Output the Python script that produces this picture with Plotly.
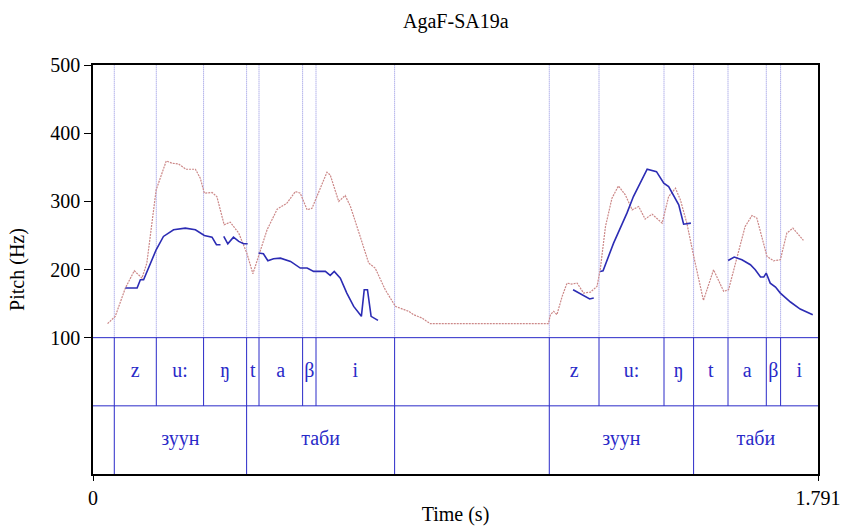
import plotly.graph_objects as go

# ---------------- data ----------------
TITLE = "AgaF-SA19a"
X_MAX = 1.791

# Red (dotted) pitch contour: time (s), pitch (Hz)
red_t = [0.036, 0.055, 0.080, 0.102, 0.121, 0.133, 0.156, 0.181, 0.195, 0.211,
         0.230, 0.253, 0.265, 0.275, 0.294, 0.306, 0.324, 0.339, 0.360, 0.380,
         0.395, 0.409, 0.430, 0.455, 0.479, 0.500, 0.512, 0.529, 0.541, 0.553,
         0.578, 0.586, 0.607, 0.623, 0.636, 0.660, 0.681, 0.697, 0.722, 0.747,
         0.763, 0.780, 0.792, 0.813, 0.833, 1.125, 1.130, 1.138, 1.146, 1.159,
         1.171, 1.183, 1.196, 1.212, 1.229, 1.245, 1.253, 1.266, 1.282, 1.298,
         1.315, 1.332, 1.348, 1.364, 1.381, 1.406, 1.422, 1.439, 1.451, 1.467,
         1.484, 1.508, 1.533, 1.558, 1.570, 1.591, 1.611, 1.628, 1.640, 1.665,
         1.681, 1.698, 1.714, 1.729, 1.743, 1.755]
red_hz = [120.5, 131.3, 172.8, 198.2, 187.4, 209.4, 316.8, 359.3, 355.9, 354.9,
          347.1, 347.1, 334.0, 312.0, 313.0, 307.0, 265.6, 269.5, 253.4, 224.0,
          193.8, 219.2, 258.2, 288.5, 297.3, 314.4, 312.0, 287.5, 289.9, 307.0,
          342.7, 338.8, 299.8, 308.6, 292.4, 248.5, 209.4, 202.1, 170.3, 145.9,
          142.0, 138.6, 133.7, 128.8, 120.5, 120.5, 133.7, 138.6, 133.7, 160.6,
          180.0, 178.6, 180.0, 165.4, 166.9, 175.2, 199.6, 263.1, 304.6, 322.6,
          309.5, 287.5, 292.4, 273.9, 281.2, 268.0, 307.0, 319.2, 302.2, 268.0,
          219.2, 154.7, 199.6, 167.9, 170.3, 219.2, 263.1, 279.2, 275.3, 219.2,
          212.8, 214.3, 253.4, 260.7, 250.9, 242.6]

# Blue (solid) pitch contour, None = unvoiced gap
blue_t = [0.080, 0.109, 0.117, 0.125, 0.156, 0.174, 0.199, 0.228, 0.253, 0.275, 0.294, 0.305, 0.315, None,
          0.323, 0.333, 0.347, 0.360, 0.372, 0.382, None,
          0.409, 0.421, 0.432, 0.446, 0.463, 0.488, 0.512, 0.529, 0.545, 0.574, 0.586, 0.596, 0.611,
          0.627, 0.644, 0.663, 0.670, 0.678, 0.687, 0.704, None,
          1.186, 1.208, 1.227, 1.237, None,
          1.253, 1.260, 1.286, 1.319, 1.335, 1.352, 1.369, 1.392, 1.410, 1.422, 1.434, 1.447, 1.459, 1.477, None,
          1.569, 1.584, 1.603, 1.624, 1.636, 1.649, 1.657, 1.663, 1.673, 1.686, 1.698, 1.723, 1.747, 1.778]
blue_hz = [172.8, 172.8, 185.0, 185.0, 228.9, 248.5, 258.2, 260.7, 258.2, 250.0, 247.5, 236.3, 236.3, None,
           248.5, 237.7, 247.5, 241.2, 237.7, 237.7, None,
           224.1, 223.1, 212.8, 215.8, 216.7, 211.8, 202.1, 202.1, 197.2, 197.2, 191.3, 197.2, 187.4,
           165.4, 145.9, 131.3, 170.3, 170.3, 131.3, 125.4, None,
           170.3, 163.0, 156.7, 158.1, None,
           197.2, 198.2, 238.7, 282.7, 307.0, 326.6, 347.1, 343.6, 326.6, 321.7, 309.5, 294.9, 266.5, 268.0, None,
           213.3, 218.2, 214.3, 207.0, 199.6, 188.9, 188.9, 194.8, 180.0, 174.2, 165.4, 152.3, 142.0, 133.7]

# Phoneme tier
phone_bounds = [0.0526, 0.1564, 0.2732, 0.3795, 0.4101, 0.5178, 0.5509, 0.7451,
                1.1272, 1.2500, 1.4106, 1.4837, 1.5687, 1.6633, 1.6986]
phone_labels = ["", "z", "u:", "ŋ", "t", "a", "β", "i", "",
                "z", "u:", "ŋ", "t", "a", "β", "i"]

# Word tier
word_bounds = [0.0526, 0.3795, 0.7451, 1.1272, 1.4837]
word_labels = ["", "зуун", "таби", "", "зуун", "таби"]

y_ticks = [100, 200, 300, 400, 500]

# ---------------- layout constants ----------------
PITCH_TOP, TIER_TOP, TIER_MID, TIER_BOT = 500, 100, 0, -100
FONT = "Liberation Serif"
FS = 20
TIER_BLUE = "#2a2ac8"
DOT_BLUE = "#8c8ce0"
RED = "#cc8888"
CONTOUR_BLUE = "#2c2cb4"

fig = go.Figure()

# dotted boundary lines in pitch area
vx, vy = [], []
for b in phone_bounds:
    vx += [b, b, None]
    vy += [TIER_TOP, PITCH_TOP, None]
fig.add_trace(go.Scatter(x=vx, y=vy, mode="lines", hoverinfo="skip",
                         line=dict(color=DOT_BLUE, width=1, dash="1px,1px")))

# tier lines (solid)
tx, ty = [], []
for b in phone_bounds:
    tx += [b, b, None]
    ty += [TIER_TOP, TIER_MID, None]
for b in word_bounds:
    tx += [b, b, None]
    ty += [TIER_MID, TIER_BOT, None]
for yv in (TIER_TOP, TIER_MID):
    tx += [0, X_MAX, None]
    ty += [yv, yv, None]
fig.add_trace(go.Scatter(x=tx, y=ty, mode="lines", hoverinfo="skip",
                         line=dict(color=TIER_BLUE, width=1)))

# contours
fig.add_trace(go.Scatter(x=red_t, y=red_hz, mode="lines",
                         line=dict(color=RED, width=1.2, dash="2px,1px")))
fig.add_trace(go.Scatter(x=blue_t, y=blue_hz, mode="lines", connectgaps=False,
                         line=dict(color=CONTOUR_BLUE, width=1.6)))

# tier labels
def mids(bounds):
    edges = [0.0] + list(bounds) + [X_MAX]
    return [(edges[i] + edges[i + 1]) / 2 for i in range(len(edges) - 1)]

fig.add_trace(go.Scatter(x=mids(phone_bounds), y=[(TIER_TOP + TIER_MID) / 2] * len(phone_labels),
                         mode="text", text=phone_labels,
                         textfont=dict(family=FONT, size=FS, color=TIER_BLUE)))
fig.add_trace(go.Scatter(x=mids(word_bounds), y=[(TIER_MID + TIER_BOT) / 2] * len(word_labels),
                         mode="text", text=word_labels,
                         textfont=dict(family=FONT, size=FS, color=TIER_BLUE)))

fig.update_layout(
    width=841, height=526,
    margin=dict(l=93, r=23, t=65, b=52, autoexpand=False),
    paper_bgcolor="white", plot_bgcolor="white",
    showlegend=False,
    font=dict(family=FONT, size=FS, color="black"),
    title=dict(text=TITLE, x=0.542, xanchor="center", y=0.96, yanchor="middle",
               font=dict(family=FONT, size=FS, color="black")),
)
fig.update_xaxes(range=[0, X_MAX], tickvals=[0, X_MAX], ticktext=["0", "1.791"],
                 automargin=False,
                 showgrid=False, zeroline=False, showline=True, linecolor="black",
                 linewidth=1.5, mirror=True, ticks="outside", ticklen=5, tickcolor="black",
                 tickfont=dict(family=FONT, size=FS, color="black"),
                 title=dict(text="Time (s)", font=dict(family=FONT, size=FS, color="black"), standoff=1))
fig.update_yaxes(range=[TIER_BOT, PITCH_TOP], tickvals=y_ticks,
                 automargin=False,
                 showgrid=False, zeroline=False, showline=True, linecolor="black",
                 linewidth=1.5, mirror=True, ticks="outside", ticklen=7, tickcolor="black",
                 tickfont=dict(family=FONT, size=FS, color="black"),
                 title=dict(text="Pitch (Hz)", font=dict(family=FONT, size=FS, color="black"), standoff=20))

fig.write_html("out.html", config={"displayModeBar": False},
               post_script="document.body.style.margin='0';")
